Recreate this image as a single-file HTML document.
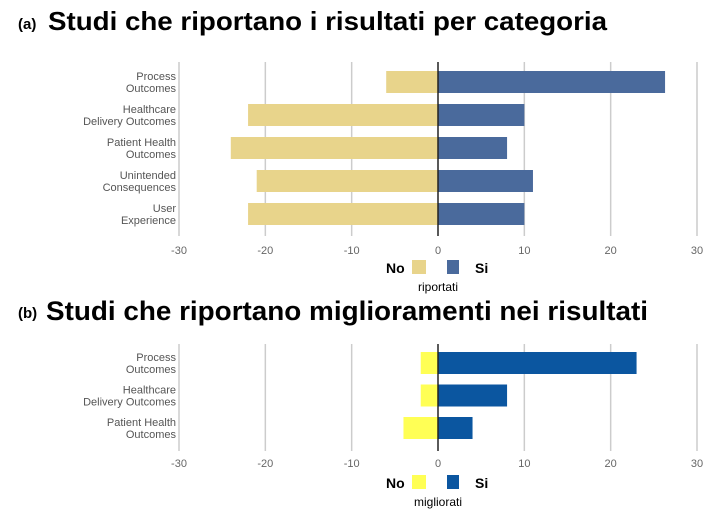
<!DOCTYPE html>
<html><head><meta charset="utf-8"><style>body{margin:0;background:#fff}svg{display:block;font-family:"Liberation Sans",Arial,sans-serif}</style></head>
<body>
<svg id="c" width="725" height="521" viewBox="0 0 725 521" xmlns="http://www.w3.org/2000/svg">
<rect width="725" height="521" fill="#fff"/>
<text x="18" y="29" font-size="15" font-weight="bold">(a)</text>
<text x="48" y="30" font-size="26" font-weight="bold" textLength="559" lengthAdjust="spacingAndGlyphs">Studi che riportano i risultati per categoria</text>
<text x="18" y="318" font-size="15" font-weight="bold">(b)</text>
<text x="46" y="320" font-size="27" font-weight="bold" textLength="602" lengthAdjust="spacingAndGlyphs">Studi che riportano miglioramenti nei risultati</text>
<g id="ga"></g>
<g id="gb"></g>
</svg>
<script>
const catsA = [["Process","Outcomes"],["Healthcare","Delivery Outcomes"],["Patient Health","Outcomes"],["Unintended","Consequences"],["User","Experience"]];
const noA = [-6,-22,-24,-21,-22];
const siA = [26.3,10,8,11,10];
const catsB = [["Process","Outcomes"],["Healthcare","Delivery Outcomes"],["Patient Health","Outcomes"]];
const noB = [-2,-2,-4];
const siB = [23,8,4];
const ticks = [-30,-20,-10,0,10,20,30];
const NS="http://www.w3.org/2000/svg";
function mk(p,t,a,txt){const e=document.createElementNS(NS,t);for(const k in a)e.setAttribute(k,a[k]);if(txt!==undefined)e.textContent=txt;p.appendChild(e);return e;}
const x=v=>438+v*(259/30);
function draw(g,cats,no,si,o){
  ticks.forEach(t=>{if(t!==0){const l=mk(g,'line',{x1:x(t),x2:x(t),y1:o.top,y2:o.bot,stroke:'#ccc','stroke-width':1.5});
  
  }
  const tl=mk(g,'text',{x:x(t),y:o.tickY,'font-size':11,fill:'#666','text-anchor':'middle'},String(t));
  
  });
  cats.forEach((c,i)=>{const cy=o.y0+i*o.step;
    const b1=mk(g,'rect',{x:x(no[i]),y:cy-o.h/2,width:x(0)-x(no[i]),height:o.h,fill:o.cNo});
    
    
    const b2=mk(g,'rect',{x:x(0),y:cy-o.h/2,width:x(si[i])-x(0),height:o.h,fill:o.cSi});
    
    
    const t=mk(g,'text',{x:176,y:cy-2,'font-size':11,fill:'#555','text-anchor':'end'});
    
    
    mk(t,'tspan',{x:176,dy:0},c[0]);mk(t,'tspan',{x:176,dy:12},c[1]);
  });
  const z=mk(g,'line',{x1:x(0),x2:x(0),y1:o.top,y2:o.bot,stroke:'#222','stroke-width':1.5});
  
  
  const ly=o.legY;
  const n=mk(g,'text',{x:386,y:ly+6,'font-size':14,'font-weight':'bold'},'No');
  
  
  const r1=mk(g,'rect',{x:412,y:ly-7,width:14,height:14,fill:o.cNo});
  
  
  const r2=mk(g,'rect',{x:447,y:ly-7,width:12,height:14,fill:o.cSi});
  
  
  const s=mk(g,'text',{x:475,y:ly+6,'font-size':14,'font-weight':'bold'},'Si');
  
  
  const lt=mk(g,'text',{x:438,y:ly+24,'font-size':12,'text-anchor':'middle'},o.legT);
  
  
}
draw(document.getElementById('ga'),catsA,noA,siA,{top:62,bot:236,tickY:254,y0:82,step:33,h:22,cNo:'#e8d48b',cSi:'#4a6a9c',legY:267,legT:'riportati'});
draw(document.getElementById('gb'),catsB,noB,siB,{top:344,bot:451,tickY:467,y0:363,step:32.5,h:22,cNo:'#ffff55',cSi:'#0b56a0',legY:482,legT:'migliorati'});
</script>
</body></html>
